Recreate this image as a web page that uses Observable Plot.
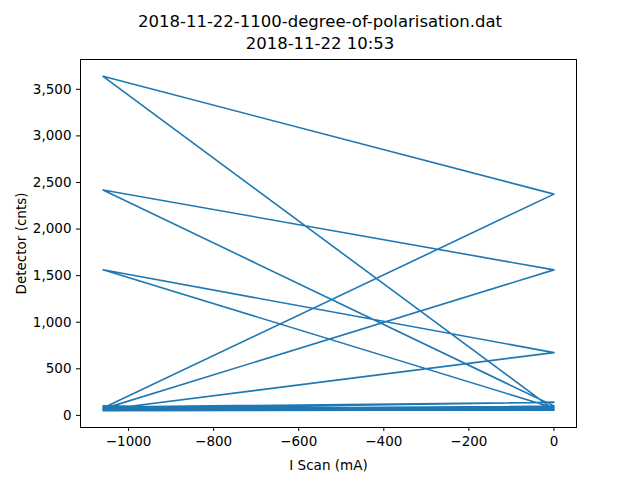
<!DOCTYPE html>
<html><head><meta charset="utf-8">
<script src="https://cdn.jsdelivr.net/npm/d3@7"></script>
<script src="https://cdn.jsdelivr.net/npm/@observablehq/plot@0.6"></script>
<style>
body{margin:0;background:#fff;font-family:"DejaVu Sans",sans-serif;}
#title{height:58px;text-align:center;font-size:16.5px;line-height:22px;padding-top:11px;box-sizing:border-box;}
</style></head>
<body>
<div id="title">2018-11-22-1100-degree-of-polarisation.dat<br>2018-11-22 10:53</div>
<div id="chart"></div>
<script>
// scan current (mA) and detector counts, in measurement order
const current = [0, -1060, 0, -1060, 0, -1060, 0, -1060, 0, -1060, 0, -1060, 0, -1060, 0,
  -1060, 0, -1060, 0, -1060, 0, -1060, 0, -1060, 0, -1060, 0, -1060, 0, -1060, 0];
const counts = [70, 80, 2375, 3640, 60, 70, 1562, 2420, 100, 60, 674, 1563, 80, 90, 140,
  70, 55, 85, 65, 95, 75, 50, 60, 100, 70, 65, 90, 55, 80, 75, 60];
const xTicks = [-1000, -800, -600, -400, -200, 0];
const yTicks = [0, 500, 1000, 1500, 2000, 2500, 3000, 3500];

const data = current.map((c, i) => ({c, v: counts[i]}));

const chart = Plot.plot({
  width: 640, height: 422,
  marginTop: 1, marginBottom: 53, marginLeft: 80, marginRight: 64,
  style: {fontFamily: "DejaVu Sans", fontSize: "13.5px", color: "#000"},
  x: {domain: [-1113, 53], ticks: xTicks, tickSize: 4, tickFormat: d => d < 0 ? "\u2212" + Math.abs(d) : d,
      label: "I Scan (mA)", labelAnchor: "center", labelArrow: "none", labelOffset: 42},
  y: {domain: [-130, 3820], ticks: yTicks, tickSize: 4, label: "Detector (cnts)",
      labelAnchor: "center", labelArrow: "none", labelOffset: 64},
  marks: [
    Plot.line(data, {x: "c", y: "v", stroke: "#1f77b4", strokeWidth: 1.6}),
    Plot.frame({stroke: "#000"}),
    Plot.axisX({ticks: xTicks, tickSize: 4, tickFormat: d => d < 0 ? "\u2212" + Math.abs(d) : d,
      label: "I Scan (mA)", labelAnchor: "center", labelArrow: "none", labelOffset: 42}),
    Plot.axisY({ticks: yTicks, tickSize: 4, label: "Detector (cnts)",
      labelAnchor: "center", labelArrow: "none", labelOffset: 64})
  ]
});
document.getElementById("chart").append(chart);
</script>
</body></html>
